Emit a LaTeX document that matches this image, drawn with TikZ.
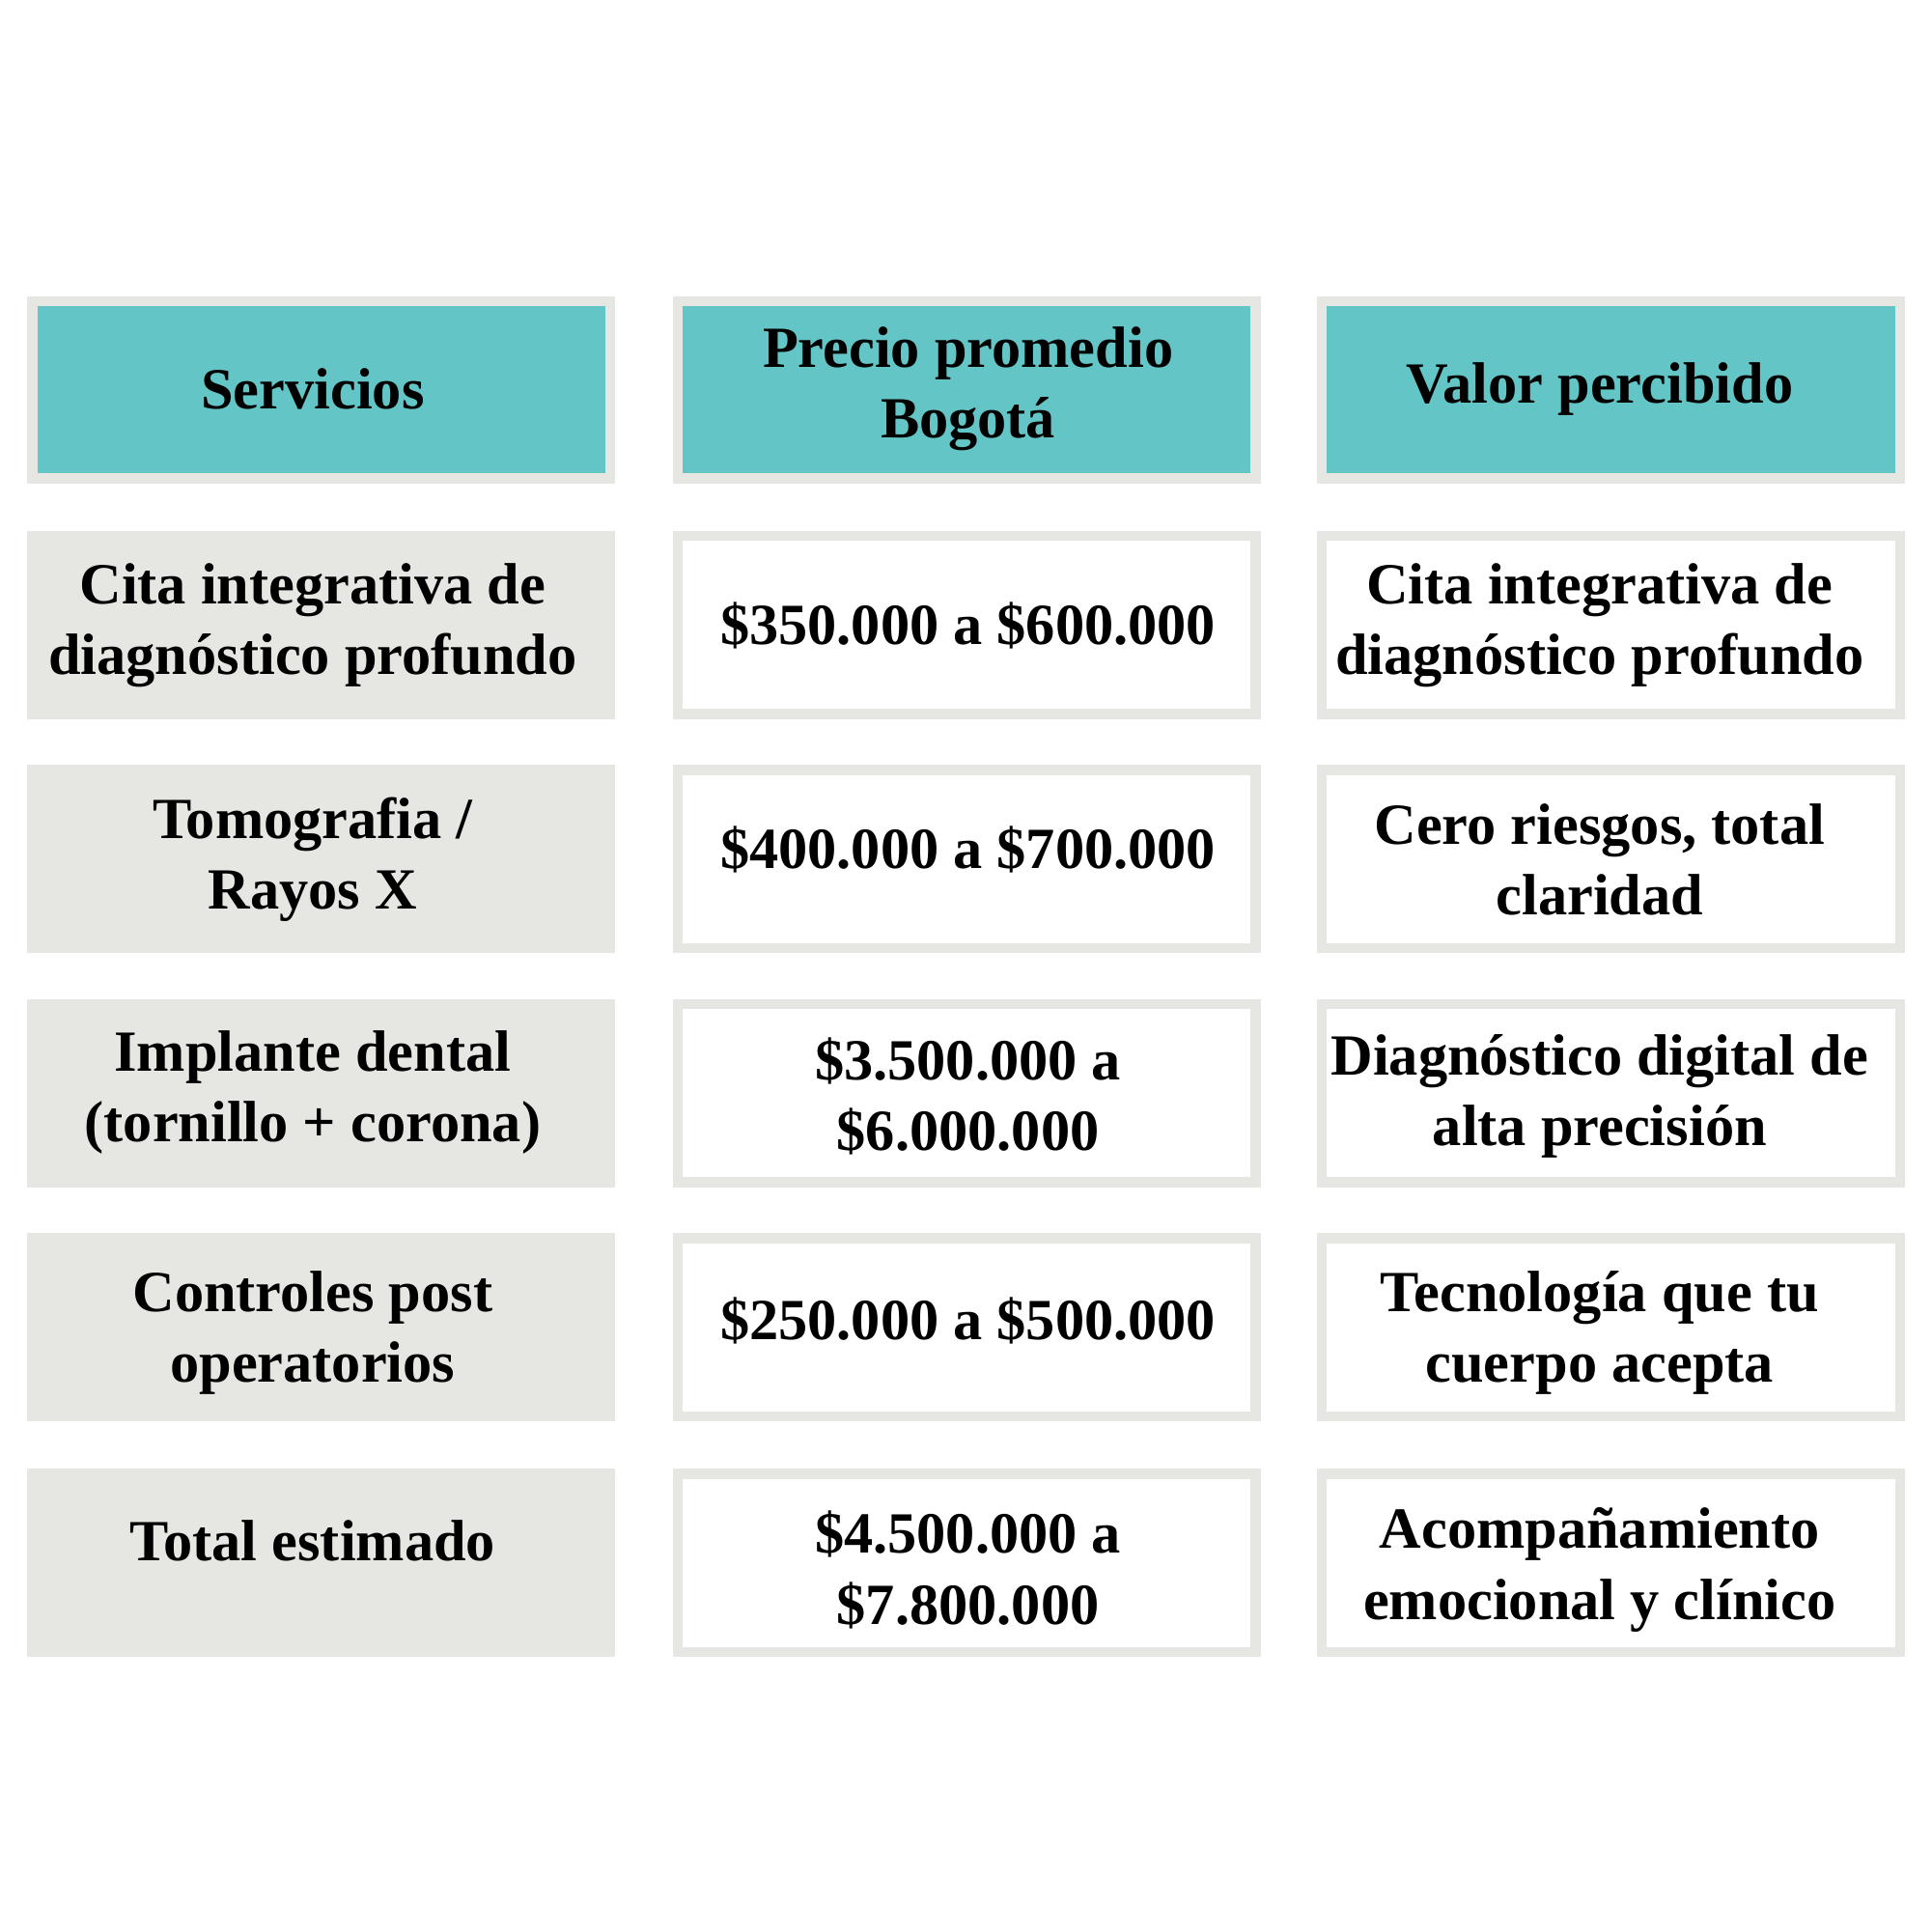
\documentclass[tikz,border=0pt]{standalone}
\usepackage{fontspec}
\setmainfont{Liberation Serif}
\definecolor{bord}{HTML}{E6E6E2}
\definecolor{teal}{HTML}{63C5C6}
\begin{document}
\begin{tikzpicture}[x=0.01cm,y=-0.01cm,
 txt/.style={font=\bfseries\fontsize{13.3}{16.2}\selectfont,align=center,text=black,inner sep=0pt}]
\useasboundingbox[fill=white] (0,0) rectangle (1550,1550);
\foreach \c/\xa in {0/22,1/540,2/1057}{
  \pgfmathsetmacro\xb{\xa+472}
  \fill[bord] (\xa,238) rectangle (\xb,388);
  \fill[teal] (\xa+8,246) rectangle (\xb-8,380);
  \foreach \ya in {426,614,802,990,1179}{
    \pgfmathsetmacro\yb{\ya+151}
    \fill[bord] (\xa,\ya) rectangle (\xb,\yb);
    \ifnum\c>0 \fill[white] (\xa+8,\ya+8) rectangle (\xb-8,\yb-8);\fi
  }
}
\node[txt] (h1) at (251,312) {Servicios};
\node[txt] (h2) at (777,312) {Precio promedio\\Bogotá};
\node[txt] (h3) at (1284,312) {Valor percibido};
\node[txt] (a1) at (251,502) {Cita integrativa de\\diagnóstico profundo};
\node[txt] (a2) at (251,690) {Tomografia /\\Rayos X};
\node[txt] (a3) at (251,877) {Implante dental\\(tornillo + corona)};
\node[txt] (a4) at (251,1070) {Controles post\\operatorios};
\node[txt] (a5) at (251,1237) {Total estimado};
\node[txt] (b1) at (777,502) {\$350.000 a \$600.000};
\node[txt] (b2) at (777,682) {\$400.000 a \$700.000};
\node[txt] (b3) at (777,880) {\$3.500.000 a\\\$6.000.000};
\node[txt] (b4) at (777,1060) {\$250.000 a \$500.000};
\node[txt] (b5) at (777,1260) {\$4.500.000 a\\\$7.800.000};
\node[txt] (c1) at (1284,502) {Cita integrativa de\\diagnóstico profundo};
\node[txt] (c2) at (1284,690) {Cero riesgos, total\\claridad};
\node[txt] (c3) at (1284,880) {Diagnóstico digital de\\alta precisión};
\node[txt] (c4) at (1284,1070) {Tecnología que tu\\cuerpo acepta};
\node[txt] (c5) at (1284,1260) {Acompañamiento\\emocional y clínico};
\end{tikzpicture}
\end{document}
